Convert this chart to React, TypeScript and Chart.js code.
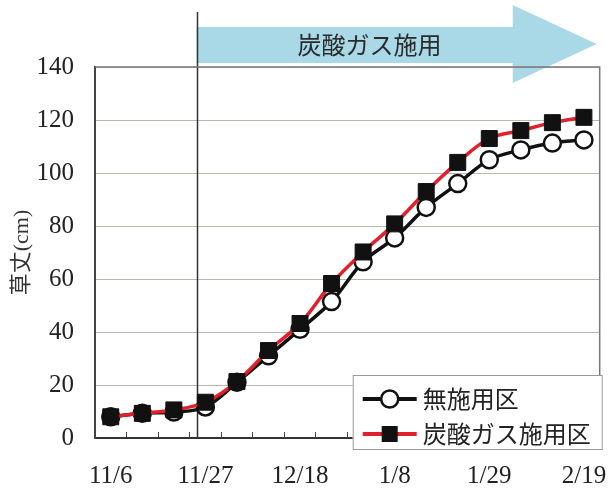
import React, { useEffect, useRef } from 'react';
import { Chart, registerables } from 'chart.js';

Chart.register(...registerables);

// ---- data ----
const dates = ['11/6', '11/13', '11/20', '11/27', '12/4', '12/11', '12/18', '12/25', '1/1', '1/8', '1/15', '1/22', '1/29', '2/5', '2/12', '2/19'];
const controlHeights = [8, 9.3, 9.8, 11.7, 21, 31, 41, 51.5, 66.5, 75.5, 87, 96, 105, 108.7, 111.3, 112.5];
const co2Heights = [8, 9.3, 10.6, 13.5, 21.3, 33, 43.2, 58.3, 70.2, 80.8, 93, 104, 113, 116, 119, 121];
const seriesNames = ['無施用区', '炭酸ガス施用区'];
const yMin = 0;
const yMax = 140;
const yStep = 20;
const labelEvery = 3;
const arrowLabel = '炭酸ガス施用';
const yTitle = '草丈(cm)';
const co2StartIndex = 2.72; // position of the "start of CO2" marker line, in category units

const SERIF = "'Liberation Serif', 'Times New Roman', serif";
const CJK = "'Noto Sans CJK JP', sans-serif";

const decor = {
  id: 'decor',
  beforeDraw(chart: any) {
    const { ctx, chartArea: ca, scales } = chart;
    const left = scales.x.getPixelForValue(co2StartIndex);
    const tip = ca.right - 3;
    const headBase = ca.right - 87;
    ctx.save();
    ctx.fillStyle = '#a9d9e7';
    ctx.beginPath();
    ctx.moveTo(left, 27);
    ctx.lineTo(headBase, 27);
    ctx.lineTo(headBase, 5);
    ctx.lineTo(tip, 44);
    ctx.lineTo(headBase, 83);
    ctx.lineTo(headBase, 63);
    ctx.lineTo(left, 63);
    ctx.closePath();
    ctx.fill();
    ctx.fillStyle = '#2a2a2a';
    ctx.font = `24px ${CJK}`;
    ctx.textAlign = 'center';
    ctx.textBaseline = 'middle';
    ctx.fillText(arrowLabel, left + 173, 45);
    ctx.restore();
  },
  beforeDatasetsDraw(chart: any) {
    const { ctx, chartArea: ca, scales } = chart;
    const x = Math.round(scales.x.getPixelForValue(co2StartIndex)) + 0.5;
    ctx.save();
    ctx.strokeStyle = '#333';
    ctx.lineWidth = 1.5;
    ctx.beginPath();
    ctx.moveTo(x, 12);
    ctx.lineTo(x, ca.bottom);
    ctx.stroke();
    ctx.restore();
  },
  afterDraw(chart: any) {
    const { ctx, chartArea: ca } = chart;
    ctx.save();
    // frame top and right
    ctx.strokeStyle = '#777';
    ctx.lineWidth = 1.5;
    ctx.beginPath();
    ctx.moveTo(ca.left, ca.top);
    ctx.lineTo(ca.right, ca.top);
    ctx.lineTo(ca.right, ca.bottom);
    ctx.stroke();

    // y title
    ctx.save();
    ctx.translate(22, (ca.top + ca.bottom) / 2);
    ctx.rotate(-Math.PI / 2);
    ctx.fillStyle = '#333';
    ctx.font = `22px 'Liberation Serif', ${CJK}`;
    ctx.textAlign = 'center';
    ctx.textBaseline = 'middle';
    ctx.fillText(yTitle, 0, 0);
    ctx.restore();

    // legend
    const lw = 249;
    const lh = 74;
    const lx = ca.right - 247;
    const ly = ca.bottom - 63;
    ctx.fillStyle = '#fff';
    ctx.fillRect(lx, ly, lw, lh);
    ctx.strokeStyle = '#999';
    ctx.lineWidth = 1;
    ctx.strokeRect(lx + 0.5, ly + 0.5, lw, lh);
    const rows = [ly + 24, ly + 59];
    rows.forEach((ry, i) => {
      ctx.lineWidth = 4;
      ctx.strokeStyle = i === 0 ? '#111' : '#e0202a';
      ctx.beginPath();
      ctx.moveTo(lx + 10, ry);
      ctx.lineTo(lx + 64, ry);
      ctx.stroke();
      const cx = lx + 37;
      if (i === 0) {
        ctx.fillStyle = '#fff';
        ctx.strokeStyle = '#111';
        ctx.lineWidth = 2.5;
        ctx.beginPath();
        ctx.arc(cx, ry, 8.5, 0, Math.PI * 2);
        ctx.fill();
        ctx.stroke();
      } else {
        ctx.fillStyle = '#111';
        ctx.fillRect(cx - 8, ry - 8, 16, 16);
      }
      ctx.fillStyle = '#222';
      ctx.font = `24px ${CJK}`;
      ctx.textAlign = 'left';
      ctx.textBaseline = 'middle';
      ctx.fillText(seriesNames[i], lx + 70, ry);
    });
    ctx.restore();
  },
};

export default function App() {
  const ref = useRef<HTMLCanvasElement | null>(null);
  useEffect(() => {
    if (!ref.current) return;
    const chart = new Chart(ref.current, {
      type: 'line',
      data: {
        labels: dates,
        datasets: [
          {
            label: seriesNames[0],
            data: controlHeights,
            borderColor: '#111',
            borderWidth: 3.5,
            tension: 0.35,
            pointStyle: 'circle',
            pointRadius: 8.5,
            pointBackgroundColor: '#fff',
            pointBorderColor: '#111',
            pointBorderWidth: 2.5,
            order: 1,
          },
          {
            label: seriesNames[1],
            data: co2Heights,
            borderColor: '#e0202a',
            borderWidth: 3.5,
            tension: 0.35,
            pointStyle: 'rect',
            pointRadius: 11.3,
            pointBackgroundColor: '#111',
            pointBorderColor: '#111',
            pointBorderWidth: 1,
            order: 0,
          },
        ],
      },
      options: {
        animation: false,
        responsive: false,
        events: [],
        layout: { padding: { top: 67, right: 7, left: 0, bottom: 0 } },
        plugins: {
          legend: { display: false },
          tooltip: { enabled: false },
        },
        scales: {
          x: {
            type: 'category',
            offset: true,
            grid: {
              offset: true,
              drawOnChartArea: false,
              drawTicks: true,
              tickLength: -6,
              color: '#444',
              lineWidth: 1,
            },
            border: { display: true, color: '#333', width: 2 },
            ticks: {
              autoSkip: false,
              maxRotation: 0,
              padding: 29,
              color: '#222',
              font: { family: SERIF, size: 25 },
              callback: (_v: any, i: number) => (i % labelEvery === 0 ? dates[i] : ''),
            },
            afterFit: (s: any) => {
              s.height = 52;
              s.paddingLeft = 0;
              s.paddingRight = 0;
            },
          },
          y: {
            min: yMin,
            max: yMax,
            grid: { color: '#b8b8a8', lineWidth: 1, drawTicks: false },
            border: { display: true, color: '#444', width: 2 },
            ticks: {
              stepSize: yStep,
              padding: 21,
              color: '#222',
              font: { family: SERIF, size: 25 },
            },
            afterFit: (s: any) => {
              s.width = 95;
              s.paddingTop = 0;
              s.paddingBottom = 0;
            },
          },
        },
      },
      plugins: [decor],
    } as any);
    return () => chart.destroy();
  }, []);
  return (
    <div style={{ position: 'fixed', left: 0, top: 0, width: 612, height: 490, background: '#fff' }}>
      <canvas ref={ref} width={612} height={490} style={{ display: 'block' }} />
    </div>
  );
}
